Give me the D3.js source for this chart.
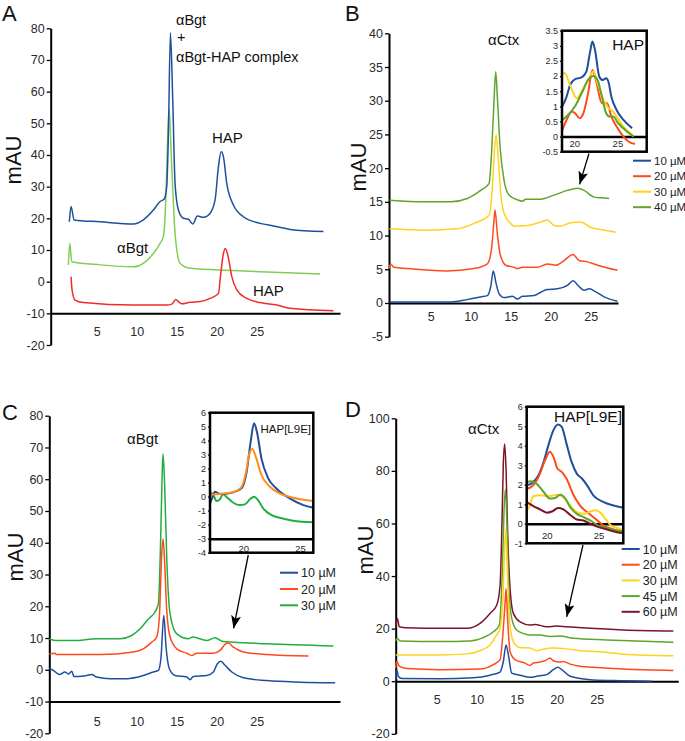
<!DOCTYPE html>
<html>
<head>
<meta charset="utf-8">
<script src="https://cdnjs.cloudflare.com/ajax/libs/d3/7.8.5/d3.min.js"></script>
<style>
body { margin: 0; background: #fff; }
svg { display: block; }
</style>
</head>
<body>
<script>
var width = 685;
var height = 741;

// ---- data (x = elution time, y = mAU) ----
var xTickValues = [5, 10, 15, 20, 25];

// Panel A
var aBlue = [[1.58,18.9],[1.79,23.7],[2.17,19.5],[5.42,18.9],[9.58,18.2],[10.83,19.5],[12.08,22.6],[12.92,25.3],[13.42,26.0],[13.75,30.0],[13.96,46.8],[14.21,78.6],[14.5,57.4],[14.79,31.0],[15.21,22.6],[15.83,20.0],[16.46,19.7],[17.0,18.2],[17.58,20.7],[18.33,20.3],[19.17,21.6],[19.79,25.8],[20.21,36.3],[20.54,41.0],[20.83,39.5],[21.25,31.0],[22.08,24.2],[23.33,20.5],[25.42,18.4],[27.08,17.6],[29.17,16.5],[33.33,15.8]];
var aGreen = [[1.46,5.3],[1.63,12.1],[1.88,6.3],[5.42,5.3],[9.58,4.7],[10.83,5.8],[12.08,8.9],[12.92,12.1],[13.33,14.2],[13.63,25.8],[13.88,46.8],[14.04,54.5],[14.38,36.0],[14.79,15.3],[15.42,5.8],[16.67,4.2],[22.08,3.5],[32.92,2.4]];
var aRed = [[1.79,1.6],[1.92,-2.6],[2.29,-5.8],[3.33,-6.6],[9.58,-7.4],[13.75,-7.4],[14.38,-7.1],[14.88,-5.6],[15.21,-6.3],[15.63,-7.0],[16.67,-6.5],[17.92,-6.3],[19.17,-5.3],[20.21,-3.7],[20.5,2.6],[20.83,8.9],[21.08,10.5],[21.42,7.9],[21.88,1.6],[22.5,-2.6],[23.75,-5.3],[25.42,-6.6],[27.5,-7.4],[29.17,-8.4],[34.58,-9.2]];
var aYTicks = [-20, -10, 0, 10, 20, 30, 40, 50, 60, 70, 80];

// Panel B
var bLabels = ['10 µM', '20 µM', '30 µM', '40 µM'];
var b10 = [[-0.13,0.15],[7.5,0.15],[9.58,0.5],[11.25,0.9],[12.08,1.1],[12.5,2.4],[12.83,4.75],[13.17,2.9],[13.54,1.4],[14.17,0.8],[15.21,1.0],[15.83,0.6],[16.46,1.0],[17.92,1.1],[18.75,1.6],[19.58,2.0],[20.83,2.1],[22.08,2.6],[22.79,3.3],[23.42,2.6],[24.17,1.9],[24.79,2.1],[25.42,1.8],[26.67,0.9],[28.33,0.25]];
var b20 = [[-0.2,5.1],[0,5.8],[0.42,5.3],[2.08,5.1],[7.08,4.75],[10.42,5.1],[12.08,5.8],[12.58,7.8],[12.92,12.3],[13.04,13.8],[13.33,10.3],[13.67,7.3],[14.38,5.6],[15.42,5.3],[15.83,5.1],[16.46,5.3],[18.33,5.3],[19.58,5.8],[20.63,5.6],[21.67,6.3],[22.79,7.2],[23.54,6.3],[24.58,6.1],[25.83,5.6],[28.33,4.85]];
var b30 = [[-0.13,11.0],[4.17,10.8],[8.33,11.0],[10.42,11.8],[12.29,13.0],[12.71,17.2],[12.92,21.7],[13.17,24.9],[13.46,21.2],[13.75,16.2],[14.17,13.3],[15.0,11.8],[15.42,11.4],[17.08,11.5],[18.75,12.0],[19.58,12.3],[20.42,11.5],[21.25,11.4],[22.5,11.9],[23.75,12.0],[25.0,11.2],[26.25,10.9],[28.13,10.5]];
var b40 = [[-0.13,15.25],[4.17,15.0],[7.5,15.0],[9.58,15.5],[11.25,16.7],[12.29,17.7],[12.63,22.7],[12.92,30.1],[13.13,34.3],[13.33,30.6],[13.67,23.2],[14.17,18.2],[14.79,16.0],[15.83,15.3],[16.46,15.1],[16.88,15.4],[18.75,15.4],[20.42,16.0],[22.08,16.7],[23.33,17.0],[24.17,16.7],[25.42,15.7],[26.25,15.6],[27.29,15.5]];
var bYTicks = [-5, 0, 5, 10, 15, 20, 25, 30, 35, 40];
// Panel B inset (HAP)
var bIn10 = [[18.6,0.99],[19.1,1.32],[19.5,1.7],[20.1,1.9],[20.85,1.96],[21.4,2.15],[21.8,2.75],[22.1,3.14],[22.4,2.86],[22.9,1.98],[23.3,1.87],[23.7,1.93],[23.95,1.82],[24.3,1.32],[24.9,0.88],[25.7,0.55],[26.7,0.28]];
var bIn20 = [[18.6,0.22],[19.1,0.55],[19.7,0.83],[20.1,0.77],[20.6,0.61],[21.05,0.77],[21.6,1.43],[22.1,2.2],[22.5,1.87],[23.2,1.1],[23.8,1.1],[24.3,0.66],[24.9,0.33],[25.7,0],[26.5,-0.2],[27.05,-0.24]];
var bIn30 = [[18.6,2.04],[18.9,2.1],[19.5,1.7],[20.3,1.27],[21.05,1.6],[21.8,1.98],[22.2,2.15],[22.7,1.76],[23.4,1.21],[23.95,0.94],[24.5,0.83],[24.9,0.66],[25.7,0.33],[26.5,0.11],[26.9,0.02]];
var bIn40 = [[18.6,0.55],[19.3,0.72],[20.1,1.01],[20.85,1.43],[21.6,1.87],[22.2,2.0],[22.7,1.87],[23.2,1.32],[23.7,0.77],[24.1,0.66],[24.5,0.66],[25.1,0.44],[26.1,0.17],[26.9,0]];
var bInYTicks = [-0.5, 0, 0.5, 1, 1.5, 2, 2.5, 3, 3.5];

// Panel C
var cLabels = ['10 µM', '20 µM', '30 µM'];
var c10 = [[-0.92,0.3],[-0.42,-0.2],[0.33,-1.5],[1.04,-0.7],[1.46,-1.3],[1.88,-0.5],[2.17,-2.1],[2.71,-2.1],[3.75,-1.8],[4.38,-1.5],[5.0,-2.3],[6.67,-2.8],[8.75,-2.8],[10.83,-1.8],[12.08,-0.7],[12.71,-0.2],[13.04,4.0],[13.38,17.1],[13.67,7.1],[14.08,0.3],[14.79,-1.8],[16.25,-2.3],[16.67,-3.1],[17.08,-2.1],[18.75,-1.8],[19.58,-0.7],[20.08,1.9],[20.5,2.7],[21.04,1.4],[21.88,-0.7],[23.33,-2.5],[26.25,-3.4],[30.42,-3.9],[34.79,-4.1]];
var c20 = [[-0.92,5.0],[-0.21,5.2],[0,4.8],[5.42,4.8],[9.58,5.6],[10.83,6.6],[11.88,8.7],[12.5,10.3],[12.83,16.6],[13.13,36.5],[13.29,41.2],[13.5,33.4],[13.75,18.7],[14.17,10.3],[15.0,6.6],[16.25,5.2],[16.88,4.5],[17.5,5.2],[19.58,5.2],[20.42,6.1],[21.04,8.0],[21.46,8.4],[22.08,7.1],[23.33,5.6],[26.25,4.8],[31.46,4.3]];
var c30 = [[-0.92,9.8],[-0.21,9.2],[2.5,9.2],[5.0,9.8],[7.92,9.8],[9.38,10.8],[10.42,12.9],[11.46,16.0],[12.29,18.2],[12.71,20.8],[13.0,41.8],[13.17,60.7],[13.29,68.0],[13.5,57.5],[13.75,35.5],[14.17,17.6],[15.0,11.3],[16.46,9.8],[17.0,10.3],[18.75,9.2],[19.79,10.1],[20.63,9.0],[22.08,8.7],[26.25,8.2],[34.58,7.5]];
var cYTicks = [-20, -10, 0, 10, 20, 30, 40, 50, 60, 70, 80];
// Panel C inset (HAP[L9E])
var cIn10 = [[17.06,-0.48],[17.3,0],[17.5,0.36],[17.8,0.24],[18.2,0.19],[19.1,0.31],[19.85,0.6],[20.3,1.79],[20.65,3.93],[20.95,5.24],[21.2,4.64],[21.6,2.74],[22.2,1.31],[22.9,0.6],[24.1,-0.12],[25.3,-0.6],[26.2,-0.79]];
var cIn20 = [[17.06,0.12],[17.6,0.17],[18.5,0.24],[19.4,0.4],[19.85,0.71],[20.25,1.79],[20.5,2.98],[20.8,3.4],[21.1,2.86],[21.6,1.55],[22.35,0.71],[23.2,0.24],[24.4,-0.07],[26.2,-0.31]];
var cIn30 = [[17.06,0.36],[17.35,0.12],[17.65,-0.31],[17.95,-0.17],[18.2,0.17],[18.5,0],[19.0,-0.36],[19.7,-0.6],[20.15,-0.55],[20.6,-0.17],[20.95,0],[21.3,-0.24],[21.75,-0.83],[22.5,-1.31],[23.2,-1.5],[24.4,-1.71],[26.2,-1.83]];
var cInYTicks = [-4, -3, -2, -1, 0, 1, 2, 3, 4, 5, 6];

// Panel D
var dLabels = ['10 µM', '20 µM', '30 µM', '45 µM', '60 µM'];
var d10 = [[-0.13,0.6],[0,4.4],[0.21,1.9],[0.63,1.0],[5.42,0.9],[9.58,1.3],[11.67,2.3],[12.92,3.5],[13.33,7.5],[13.67,13.8],[13.96,10.0],[14.38,3.1],[15.42,2.3],[16.67,1.5],[17.5,1.9],[18.75,2.5],[19.58,4.4],[20.13,5.3],[20.63,4.4],[21.67,1.9],[24.17,0.6],[27.08,0.25],[31.88,0]];
var d20 = [[-0.13,5.0],[0,7.5],[0.33,5.7],[1.25,4.8],[5.42,4.4],[10.42,4.6],[12.08,6.3],[12.92,8.2],[13.33,20.1],[13.58,31.4],[13.67,35.2],[13.88,22.6],[14.17,11.3],[14.79,8.2],[16.04,6.9],[16.67,6.0],[17.08,6.9],[17.92,7.3],[18.54,7.8],[19.17,8.8],[19.58,7.8],[20.42,7.3],[20.83,7.5],[21.67,6.5],[22.92,5.7],[24.58,5.3],[28.33,4.6],[34.58,4.1]];
var d30 = [[-0.13,10.0],[5.42,10.0],[8.75,10.4],[10.42,11.6],[11.67,13.8],[12.5,17.6],[12.92,20.1],[13.25,30.2],[13.46,47.7],[13.63,57.8],[13.83,42.7],[14.08,23.9],[14.58,15.1],[15.42,12.8],[16.67,12.6],[17.5,11.6],[18.33,12.2],[19.58,12.6],[21.25,12.3],[22.92,11.6],[25.0,11.3],[28.33,10.3],[34.58,9.7]];
var d45 = [[-0.13,15.3],[0.08,16.3],[0.42,15.3],[5.42,15.1],[9.17,15.3],[10.83,16.6],[12.08,18.8],[12.83,21.4],[13.21,42.7],[13.42,65.3],[13.58,72.9],[13.75,62.8],[14.0,36.4],[14.38,23.9],[15.0,19.5],[16.25,17.8],[16.88,17.6],[17.92,17.6],[19.17,17.0],[20.42,17.2],[22.08,16.3],[26.25,15.7],[34.58,14.8]];
var d60 = [[-0.13,20.3],[0.08,23.9],[0.33,20.7],[1.25,20.3],[5.42,20.1],[8.75,20.1],[10.42,22.0],[11.67,25.8],[12.5,28.9],[12.92,36.4],[13.17,61.6],[13.33,82.9],[13.5,90.2],[13.67,80.4],[13.88,55.3],[14.17,35.2],[14.58,25.8],[15.42,22.6],[16.67,21.4],[17.29,21.6],[18.75,20.7],[20.0,21.0],[21.25,20.7],[24.17,20.1],[28.33,19.5],[34.58,19.1]];
var dYTicks = [-20, 0, 20, 40, 60, 80, 100];
// Panel D inset (HAP[L9E])
var dIn10 = [[18.06,1.97],[18.5,2.06],[19.2,2.49],[19.7,3.17],[20.16,4.03],[20.65,4.8],[21.1,5.09],[21.45,4.97],[21.9,4.12],[22.4,3.17],[22.9,2.57],[23.4,2.32],[23.9,1.97],[24.5,1.46],[25.5,1.11],[26.45,0.94],[27.4,0.82]];
var dIn20 = [[18.06,1.8],[18.5,1.89],[19.2,2.4],[19.84,3.26],[20.3,3.69],[20.65,3.43],[21.03,2.83],[21.45,2.66],[21.9,2.32],[22.6,1.46],[23.2,0.94],[23.9,0.6],[24.7,0.26],[25.5,-0.09],[26.45,-0.29],[27.4,-0.43]];
var dIn30 = [[18.06,0.69],[18.3,0.86],[18.7,1.41],[19.35,1.46],[20.3,1.42],[21.1,1.49],[21.6,1.37],[22.25,0.94],[22.9,0.6],[23.55,0.51],[24.2,0.63],[24.7,0.69],[25.2,0.57],[25.65,0.26],[26.3,-0.12],[27.4,-0.29]];
var dIn45 = [[18.06,2.14],[18.5,2.18],[19.0,2.06],[19.7,1.63],[20.3,1.29],[20.8,1.32],[21.3,1.49],[21.8,1.29],[22.25,0.86],[22.9,0.51],[23.55,0.34],[24.2,0.17],[25.0,-0.09],[25.8,-0.22],[26.8,-0.34],[27.4,-0.38]];
var dIn60 = [[18.06,1.11],[18.7,0.91],[19.35,0.74],[20.0,0.57],[20.5,0.63],[21.1,0.81],[21.6,0.74],[22.25,0.46],[22.9,0.22],[23.55,0.17],[24.2,0],[25.0,-0.17],[25.8,-0.29],[26.8,-0.43],[27.4,-0.48]];
var dInYTicks = [-1, 0, 1, 2, 3, 4, 5, 6];
var inXTicks = [20, 25];

// ---- colours ----
var cBlue = '#1f4f9c';
var cRedA = '#f22a2a';
var cGreenA = '#80cf52';
var cRed = '#ff4a1c';
var cYellow = '#ffd21e';
var cGreen = '#5ea52a';
var cGreenC = '#22ae3e';
var cOrange = '#ff8c1e';
var cMaroon = '#7d1329';

var fontMain = '"Liberation Sans", Arial, sans-serif';

var svg = d3.select('body').append('svg')
  .attr('width', width)
  .attr('height', height)
  .style('font-family', fontMain);

var defs = svg.append('defs');
defs.append('marker')
  .attr('id', 'arrowHead')
  .attr('markerUnits', 'userSpaceOnUse')
  .attr('markerWidth', 14)
  .attr('markerHeight', 10)
  .attr('refX', 13)
  .attr('refY', 5)
  .attr('orient', 'auto')
  .append('path')
  .attr('d', 'M0,0 L13,5 L0,10 L3,5 Z')
  .attr('fill', '#000');

var fmt = function(d) { return String(d); };

var styleAxis = function(axisG, fontSize, strokeW) {
  axisG.select('.domain').attr('stroke', '#000').attr('stroke-width', strokeW);
  axisG.selectAll('.tick line').attr('stroke', '#000').attr('stroke-width', 1.3);
  axisG.selectAll('.tick text')
       .attr('fill', '#2a2a2a')
       .style('font-family', fontMain)
       .style('font-size', fontSize + 'px');
};

var drawMain = function(p) {
  var g = svg.append('g');
  var x = d3.scaleLinear().domain(p.xDomain).range(p.xRange);
  var y = d3.scaleLinear().domain(p.yDomain).range(p.yRange);

  var yAxisG = g.append('g')
    .attr('transform', 'translate(' + p.xRange[0] + ',0)')
    .call(d3.axisLeft(y).tickValues(p.yTicks).tickFormat(fmt)
            .tickSize(4).tickSizeOuter(0).tickPadding(2));
  styleAxis(yAxisG, 12.5, 2);

  var xAxisG = g.append('g')
    .attr('transform', 'translate(0,' + y(p.xAxisAt) + ')')
    .call(d3.axisBottom(x).tickValues(xTickValues).tickFormat(fmt)
            .tickSize(0).tickSizeOuter(0).tickPadding(p.xPad));
  styleAxis(xAxisG, 12.5, 2);

  var line = d3.line()
               .x(function(d) { return x(d[0]); })
               .y(function(d) { return y(d[1]); })
               .curve(d3.curveMonotoneX);

  p.series.forEach(function(s) {
    g.append('path')
     .datum(s.data)
     .attr('d', line)
     .attr('fill', 'none')
     .attr('stroke', s.color)
     .attr('stroke-width', 1.5)
     .attr('stroke-linejoin', 'round');
  });

  return {x: x, y: y, g: g};
};

var insetCount = 0;
var drawInset = function(p) {
  insetCount++;
  var g = svg.append('g');
  var x = d3.scaleLinear().domain(p.xDomain).range(p.xRange);
  var y = d3.scaleLinear().domain(p.yDomain).range(p.yRange);
  var left = p.xRange[0], right = p.xRange[1];
  var top = p.yRange[1], bottom = p.yRange[0];

  g.append('rect')
   .attr('x', left).attr('y', top)
   .attr('width', right - left).attr('height', bottom - top)
   .attr('fill', '#fff');

  var clipId = 'insetClip' + insetCount;
  defs.append('clipPath').attr('id', clipId)
      .append('rect')
      .attr('x', left).attr('y', top)
      .attr('width', right - left).attr('height', bottom - top);

  var yAxisG = g.append('g')
    .attr('transform', 'translate(' + left + ',0)')
    .call(d3.axisLeft(y).tickValues(p.yTicks).tickFormat(fmt)
            .tickSize(2).tickSizeOuter(0).tickPadding(2));
  styleAxis(yAxisG, 9, 0);

  var xAxisG = g.append('g')
    .attr('transform', 'translate(0,' + y(p.xAxisAt) + ')')
    .call(d3.axisBottom(x).tickValues(inXTicks).tickFormat(fmt)
            .tickSize(0).tickSizeOuter(0).tickPadding(p.xPad));
  styleAxis(xAxisG, 9.5, 2.5);

  var line = d3.line()
               .x(function(d) { return x(d[0]); })
               .y(function(d) { return y(d[1]); })
               .curve(d3.curveMonotoneX);

  var traces = g.append('g').attr('clip-path', 'url(#' + clipId + ')');
  p.series.forEach(function(s) {
    traces.append('path')
          .datum(s.data)
          .attr('d', line)
          .attr('fill', 'none')
          .attr('stroke', s.color)
          .attr('stroke-width', 2)
          .attr('stroke-linejoin', 'round');
  });

  g.append('rect')
   .attr('x', left).attr('y', top)
   .attr('width', right - left).attr('height', bottom - top)
   .attr('fill', 'none')
   .attr('stroke', '#000')
   .attr('stroke-width', 2.5);

  g.append('text')
   .attr('x', p.labelPos[0]).attr('y', p.labelPos[1])
   .attr('text-anchor', 'end')
   .style('font-size', p.labelSize + 'px')
   .attr('fill', '#111')
   .text(p.label);

  return {x: x, y: y, g: g};
};

var drawLegend = function(labels, colors, lx, ly, step, size) {
  var lg = svg.append('g');
  labels.forEach(function(lab, i) {
    var yy = ly + i * step;
    lg.append('line')
      .attr('x1', lx).attr('x2', lx + 18)
      .attr('y1', yy).attr('y2', yy)
      .attr('stroke', colors[i]).attr('stroke-width', 2);
    lg.append('text')
      .attr('x', lx + 21).attr('y', yy)
      .attr('dy', '0.36em')
      .style('font-size', size + 'px')
      .attr('fill', '#222')
      .text(lab);
  });
};

var drawArrow = function(x1, y1, x2, y2) {
  svg.append('line')
     .attr('x1', x1).attr('y1', y1)
     .attr('x2', x2).attr('y2', y2)
     .attr('stroke', '#000')
     .attr('stroke-width', 1.3)
     .attr('marker-end', 'url(#arrowHead)');
};

var addText = function(txt, xx, yy, size, anchor) {
  return svg.append('text')
            .attr('x', xx).attr('y', yy)
            .attr('text-anchor', anchor || 'start')
            .style('font-size', size + 'px')
            .attr('fill', '#111')
            .text(txt);
};

var addYTitle = function(xx, yy) {
  svg.append('text')
     .attr('transform', 'translate(' + xx + ',' + yy + ') rotate(-90)')
     .attr('text-anchor', 'middle')
     .style('font-size', '22px')
     .attr('fill', '#111')
     .text('mAU');
};

// ---- Panel A ----
var pA = drawMain({
  xDomain: [-0.75, 35.4], xRange: [50.7, 340],
  yDomain: [-20, 80], yRange: [345, 28.3],
  yTicks: aYTicks, xAxisAt: -10, xPad: 14,
  series: [
    {data: aGreen, color: cGreenA},
    {data: aRed, color: cRedA},
    {data: aBlue, color: cBlue}
  ]
});
addText('A', 2, 21, 22);
addYTitle(21, 160);
addText('αBgt', 176, 24.5, 14.5);
addText('+', 177, 42, 14.5);
addText('αBgt-HAP complex', 176, 62, 14.5);
addText('HAP', 212, 142.5, 15);
addText('αBgt', 117, 252.5, 15);
addText('HAP', 253, 296, 15);

// ---- Panel B ----
var pB = drawMain({
  xDomain: [-0.2, 28.4], xRange: [389, 618],
  yDomain: [-5, 40], yRange: [336.7, 33.3],
  yTicks: bYTicks, xAxisAt: 0, xPad: 9.5,
  series: [
    {data: b40, color: cGreen},
    {data: b30, color: cYellow},
    {data: b20, color: cRed},
    {data: b10, color: cBlue}
  ]
});
addText('B', 345, 21, 22);
addYTitle(366, 167);
addText('αCtx', 488, 44.5, 15);
var inB = drawInset({
  xDomain: [18.57, 28.4], xRange: [562, 646.7],
  yDomain: [-0.5, 3.5], yRange: [151.7, 30.7],
  yTicks: bInYTicks, xAxisAt: 0, xPad: 4,
  label: 'HAP', labelPos: [644, 49.5], labelSize: 15.5,
  series: [
    {data: bIn10, color: cBlue},
    {data: bIn20, color: cRed},
    {data: bIn30, color: cYellow},
    {data: bIn40, color: cGreen}
  ]
});
drawLegend(bLabels, [cBlue, cRed, cYellow, cGreen], 633, 160.7, 15.5, 11.5);
drawArrow(inB.x(21.7), 153.5, pB.x(23.6), pB.y(17.6));

// ---- Panel C ----
var pC = drawMain({
  xDomain: [-0.92, 35.4], xRange: [49.3, 340],
  yDomain: [-20, 80], yRange: [733.3, 415.7],
  yTicks: cYTicks, xAxisAt: -10, xPad: 16,
  series: [
    {data: c30, color: cGreenC},
    {data: c20, color: cRed},
    {data: c10, color: cBlue}
  ]
});
addText('C', 2, 420, 22);
addYTitle(23, 557);
addText('αBgt', 127, 444, 15);
var inC = drawInset({
  xDomain: [17.06, 26.18], xRange: [210, 313.3],
  yDomain: [-4, 6], yRange: [552.7, 412.7],
  yTicks: cInYTicks, xAxisAt: -3, xPad: 6.4,
  label: 'HAP[L9E]', labelPos: [311, 433], labelSize: 11.5,
  series: [
    {data: cIn30, color: cGreenC},
    {data: cIn10, color: cBlue},
    {data: cIn20, color: cOrange}
  ]
});
drawLegend(cLabels, [cBlue, cRed, cGreenC], 280, 572.7, 16.3, 12.5);
drawArrow(inC.x(20.44), 555, pC.x(22.1), pC.y(13));

// ---- Panel D ----
var pD = drawMain({
  xDomain: [-0.125, 35.2], xRange: [395.7, 678.3],
  yDomain: [-20, 100], yRange: [733.8, 418.3],
  yTicks: dYTicks, xAxisAt: 0, xPad: 14,
  series: [
    {data: d60, color: cMaroon},
    {data: d45, color: cGreen},
    {data: d30, color: cYellow},
    {data: d20, color: cRed},
    {data: d10, color: cBlue}
  ]
});
addText('D', 345, 417, 22);
addYTitle(373, 550);
addText('αCtx', 468, 434, 15);
var inD = drawInset({
  xDomain: [18.06, 27.4], xRange: [526.7, 623.3],
  yDomain: [-1, 6], yRange: [543.3, 406.7],
  yTicks: dInYTicks, xAxisAt: 0, xPad: 8,
  label: 'HAP[L9E]', labelPos: [622, 422], labelSize: 15.5,
  series: [
    {data: dIn10, color: cBlue},
    {data: dIn20, color: cRed},
    {data: dIn30, color: cYellow},
    {data: dIn45, color: cGreen},
    {data: dIn60, color: cMaroon}
  ]
});
drawLegend(dLabels, [cBlue, cRed, cYellow, cGreen, cMaroon], 621.7, 549, 15.7, 12.5);
drawArrow(inD.x(23.5), 545, pD.x(21.25), pD.y(24.5));
</script>
</body>
</html>
